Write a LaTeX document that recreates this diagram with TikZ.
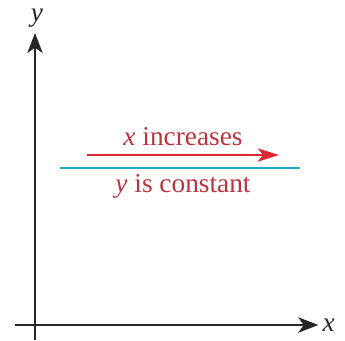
\documentclass[tikz,border=0pt]{standalone}
\usepackage{fontspec}
\setmainfont{Liberation Serif}
\usepackage{xcolor}
\usetikzlibrary{arrows.meta,positioning}
\definecolor{motioncolor}{RGB}{220,40,50}
\definecolor{textcolor}{RGB}{188,50,62}
\definecolor{levelcolor}{RGB}{30,172,200}

\begin{document}
\begin{tikzpicture}[x=0.75pt, y=-0.75pt,
  axis/.style={-{Stealth[length=15pt, width=11.5pt, inset=4pt]}, line width=1.5pt, black!85},
  arr/.style={-{Stealth[length=16pt, width=10pt, inset=4pt]}, line width=1.5pt, #1},
  lbl/.style={font=\fontsize{20.5}{24}\selectfont, inner sep=1pt, #1}
]
  \useasboundingbox (0,0) rectangle (345,340);

  % Axes
  \coordinate (xstart) at (15,325);
  \coordinate (ystart) at (35,340);
  \node[lbl=black!85, anchor=west] (xlab) at (321,325) {\textit{x}};
  \node[lbl=black!85, anchor=south] (ylab) at (37,29) {\textit{y}};
  \draw[axis, shorten >=2pt] (xstart) -- (xlab.west |- xstart);
  \draw[axis, shorten >=3pt] (ystart) -- (ystart |- ylab.south);

  % Horizontal level line
  \coordinate (lvlleft) at (60,168);
  \coordinate (lvlright) at (300,168);
  \draw[levelcolor, line width=2.2pt] (lvlleft) -- (lvlright);

  % Motion arrow and labels
  \coordinate (mleft) at (87,155);
  \coordinate (mright) at (279,155);
  \draw[arr=motioncolor] (mleft) -- (mright);
  \node[lbl=textcolor] (inc) at (183,137) {\textit{x} increases};
  \node[lbl=textcolor] (const) at (183,186) {\textit{y} is constant};

\end{tikzpicture}
\end{document}
